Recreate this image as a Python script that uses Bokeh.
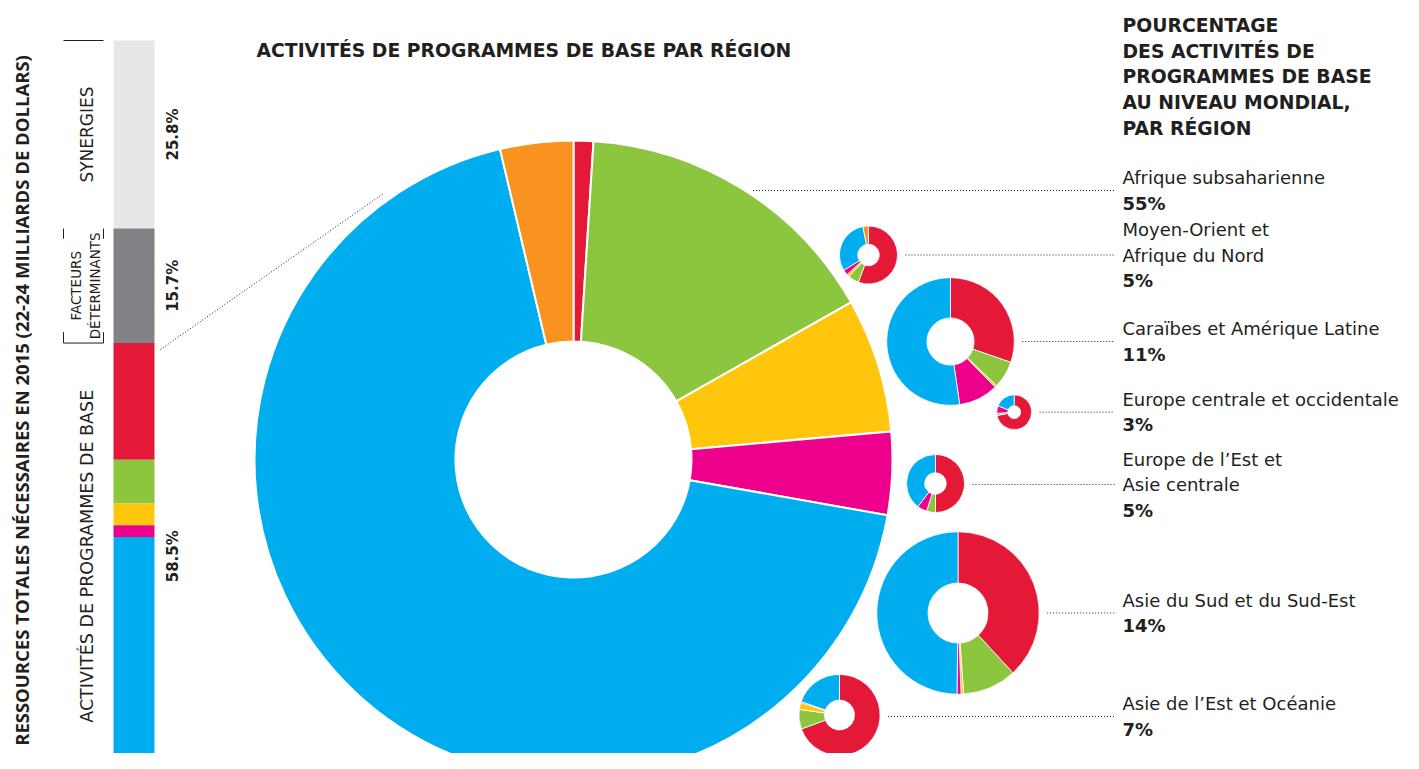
import math
from bokeh.plotting import figure
from bokeh.models import ColumnDataSource, Range1d
from bokeh.embed import file_html
from bokeh.resources import INLINE
from bokeh.core.properties import value

# ---------------- DATA ----------------
# left stacked bar (share of total resources, %)
bar_groups = ["SYNERGIES", "FACTEURS DÉTERMINANTS", "ACTIVITÉS DE PROGRAMMES DE BASE"]
bar_group_pct = [25.8, 15.7, 58.5]
bar_group_labels = ["25.8%", "15.7%", "58.5%"]
# split of the core-programme part (red, green, yellow, pink, blue, orange)
base_split_pct = [16.0, 6.0, 3.0, 1.6, 31.4, 0.5]

# regions (share of global core programme activities, %)
region_names = [
    ["Afrique subsaharienne"],
    ["Moyen-Orient et", "Afrique du Nord"],
    ["Caraïbes et Amérique Latine"],
    ["Europe centrale et occidentale"],
    ["Europe de l’Est et", "Asie centrale"],
    ["Asie du Sud et du Sud-Est"],
    ["Asie de l’Est et Océanie"],
]
region_pct = [55, 5, 11, 3, 5, 14, 7]
region_pct_labels = ["55%", "5%", "11%", "3%", "5%", "14%", "7%"]

# breakdown of each region's donut (red, green, yellow, pink, blue, orange), %
split_afrique_ss = [1.0, 15.8, 6.8, 4.2, 68.5, 3.7]
split_moyen_orient = [55.7, 6.0, 1.5, 3.0, 30.7, 3.1]
split_caraibes = [30.3, 6.9, 0.5, 10.0, 52.3, 0.0]
split_europe_co = [72.0, 2.0, 0.0, 7.0, 19.0, 0.0]
split_europe_est = [50.0, 5.0, 0.0, 5.4, 39.6, 0.0]
split_asie_sud = [38.2, 10.7, 0.5, 0.8, 49.8, 0.0]
split_asie_est = [69.4, 7.8, 2.7, 0.5, 19.6, 0.0]
region_splits = [split_afrique_ss, split_moyen_orient, split_caraibes, split_europe_co,
                 split_europe_est, split_asie_sud, split_asie_est]

# ---------------- STYLE / LAYOUT ----------------
COLORS = ["#e31937", "#8cc63f", "#ffc60b", "#ec008c", "#00aeef", "#f7931e"]
GROUP_COLORS = ["#e6e7e8", "#808285"]
INK = "#231f20"
FONT = value("DejaVu Sans")
FONT_V = value("Open Sans")

W, H = 1403, 753
def Y(sy):  # page y (px) -> data y
    return 769 - sy

centres = [(573, 459), (868, 254.5), (950, 341), (1013.7, 411.7),
           (935, 483), (957.5, 612.5), (839, 714.5)]
leader_y = [190, 254.5, 341, 411.7, 484, 612.5, 716]
R_PER_PCT = 5.8
HOLE = 0.37
LABEL_X = 1122
LEADER_END = 1114
LINE_H = 25.5

p = figure(width=W, height=H, x_range=Range1d(0, W), y_range=Range1d(769 - H, 769),
           output_backend="svg", toolbar_location=None, min_border=0)
p.axis.visible = False
p.grid.visible = False
p.outline_line_color = None
p.background_fill_color = "white"
p.border_fill_color = "white"

# ---- left stacked bar on its own percentage scale ----
BAR_TOP_SY, BAR_PX_PER_PCT = 40, 7.29
p.extra_y_ranges = {"bar": Range1d(start=(H - BAR_TOP_SY) / BAR_PX_PER_PCT,
                                   end=-BAR_TOP_SY / BAR_PX_PER_PCT)}
bar_vals = bar_group_pct[:2] + base_split_pct
bar_cols = GROUP_COLORS + COLORS
tops, bottoms, acc = [], [], 0.0
for v in bar_vals:
    tops.append(acc)
    acc += v
    bottoms.append(acc)
p.quad(left=113, right=154, top=tops, bottom=bottoms, fill_color=bar_cols,
       line_color=None, y_range_name="bar")

grp_centres, acc = [], 0.0
for v in bar_group_pct:
    grp_centres.append(acc + v / 2)
    acc += v
p.text(x=[172] * 3, y=grp_centres, text=bar_group_labels, angle=math.pi / 2,
       text_align="center", text_baseline="middle", text_font=FONT,
       text_font_style="bold", text_font_size="15px", text_color=INK, y_range_name="bar")
p.text(x=[86], y=[grp_centres[0]], text=[bar_groups[0]], angle=math.pi / 2,
       text_align="center", text_baseline="middle", text_font=FONT,
       text_font_size="17px", text_color=INK, y_range_name="bar")
p.text(x=[75, 94], y=[grp_centres[1]] * 2, text=["FACTEURS", "DÉTERMINANTS"],
       angle=math.pi / 2, text_align="center", text_baseline="middle", text_font=FONT,
       text_font_size="13.5px", text_color=INK, y_range_name="bar")
p.text(x=[86], y=[grp_centres[2]], text=[bar_groups[2]], angle=math.pi / 2,
       text_align="center", text_baseline="middle", text_font=FONT,
       text_font_size="17.5px", text_color=INK, y_range_name="bar")

# bracket marks
edges = [0, bar_group_pct[0], bar_group_pct[0] + bar_group_pct[1]]
p.segment(x0=[63, 63], x1=[103, 103], y0=[edges[0], edges[2]], y1=[edges[0], edges[2]],
          line_color=INK, line_width=1, y_range_name="bar")
e1, e2 = edges[1], edges[2]
p.segment(x0=[63, 103, 63, 103], x1=[63, 103, 63, 103],
          y0=[e1, e1, e2, e2], y1=[e1 + 1.4, e1 + 1.4, e2 - 1.5, e2 - 1.5],
          line_color=INK, line_width=1, y_range_name="bar")

# vertical title
p.text(x=[21], y=[Y(400)], text=["RESSOURCES TOTALES NÉCESSAIRES EN 2015 (22-24 MILLIARDS DE DOLLARS)"],
       angle=math.pi / 2, text_align="center", text_baseline="middle", text_font=FONT_V,
       text_font_style="bold", text_font_size="18.5px", text_color=INK)

# chart title
p.text(x=[256], y=[Y(50)], text=["ACTIVITÉS DE PROGRAMMES DE BASE PAR RÉGION"],
       text_align="left", text_baseline="middle", text_font=FONT,
       text_font_style="bold", text_font_size="18.8px", text_color=INK)

# dotted link from bar to main donut
p.segment(x0=[160], y0=[Y(349)], x1=[383], y1=[Y(193)], line_color=INK,
          line_width=1, line_dash="1 2")

# ---- donuts ----
for i, (vals, pct, (cx, cy)) in enumerate(zip(region_splits, region_pct, centres)):
    R = R_PER_PCT * pct
    total = sum(vals)
    starts, ends, cols, acc = [], [], [], 0.0
    for v, c in zip(vals, COLORS):
        if v <= 0:
            continue
        starts.append(math.pi / 2 - 2 * math.pi * acc / total)
        acc += v
        ends.append(math.pi / 2 - 2 * math.pi * acc / total)
        cols.append(c)
    src = ColumnDataSource(dict(s=starts, e=ends, c=cols))
    p.annular_wedge(x=cx, y=Y(cy), inner_radius=HOLE * R, outer_radius=R,
                    start_angle="s", end_angle="e", direction="clock", fill_color="c",
                    line_color="white", line_width=2.0 if i == 0 else 0.8, source=src)
    ly = leader_y[i]
    dy = ly - cy
    x_start = cx + math.sqrt(max(R * R - dy * dy, 0)) + 8
    p.segment(x0=[x_start], y0=[Y(ly)], x1=[LEADER_END], y1=[Y(ly)], line_color=INK,
              line_width=1, line_dash="1 2")
    lines = region_names[i] + [region_pct_labels[i]]
    n = len(lines)
    ys = [Y(ly + (k - (n - 1) / 2) * LINE_H) for k in range(n)]
    p.text(x=[LABEL_X] * (n - 1), y=ys[:-1], text=lines[:-1], text_align="left",
           text_baseline="middle", text_font=FONT, text_font_size="18px", text_color=INK)
    p.text(x=[LABEL_X], y=[ys[-1]], text=[lines[-1]], text_align="left",
           text_baseline="middle", text_font=FONT, text_font_style="bold",
           text_font_size="18px", text_color=INK)

# right header
header = ["POURCENTAGE", "DES ACTIVITÉS DE", "PROGRAMMES DE BASE", "AU NIVEAU MONDIAL,", "PAR RÉGION"]
p.text(x=[LABEL_X] * len(header), y=[Y(25 + k * 25.7) for k in range(len(header))], text=header,
       text_align="left", text_baseline="middle", text_font=FONT, text_font_style="bold",
       text_font_size="18.8px", text_color=INK)

open("out.html", "w").write(file_html(p, INLINE))
